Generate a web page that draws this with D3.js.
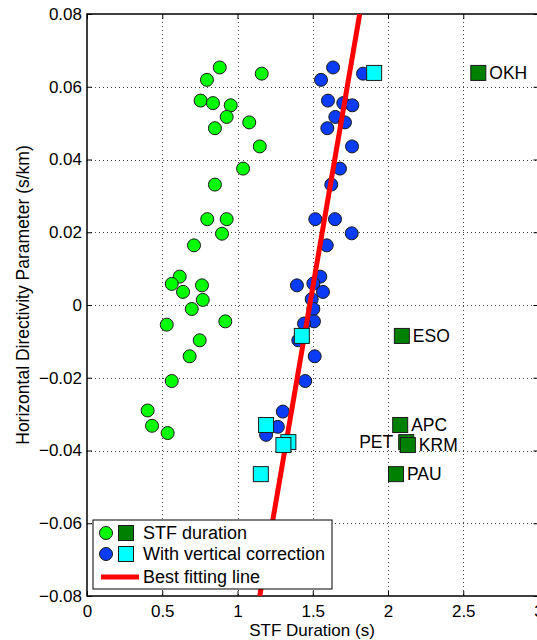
<!DOCTYPE html>
<html>
<head>
<meta charset="utf-8">
<script src="https://cdn.jsdelivr.net/npm/d3@7"></script>
<style>
  body { margin: 0; background: #fff; }
  svg { display: block; font-family: "Liberation Sans", Arial, sans-serif; }
</style>
</head>
<body>
<div id="chart"></div>
<script>
// STF duration (green circles) and the same events after vertical correction (blue circles)
const stfDuration = [0.882, 1.161, 0.797, 0.755, 0.837, 0.955, 0.928, 1.078, 0.850, 1.148,
  1.037, 0.850, 0.799, 0.928, 0.897, 0.711, 0.616, 0.563, 0.764, 0.638,
  0.769, 0.696, 0.530, 0.919, 0.749, 0.682, 0.563, 0.403, 0.432, 0.536];
const stfDirectivity = [0.0653, 0.0636, 0.0619, 0.0562, 0.0555, 0.0549, 0.0517, 0.0502, 0.0486, 0.0436,
  0.0375, 0.0331, 0.0236, 0.0236, 0.0196, 0.0164, 0.0078, 0.0058, 0.0054, 0.0036,
  0.0014, -0.0011, -0.0054, -0.0045, -0.0097, -0.0141, -0.0209, -0.0290, -0.0332, -0.0352];

const corrDuration = [1.635, 1.834, 1.555, 1.601, 1.703, 1.763, 1.650, 1.714, 1.597, 1.761,
  1.681, 1.623, 1.517, 1.648, 1.759, 1.593, 1.550, 1.395, 1.504, 1.568,
  1.493, 1.504, 1.508, 1.442, 1.404, 1.513, 1.450, 1.301, 1.268, 1.190];
const corrDirectivity = [0.0653, 0.0636, 0.0619, 0.0562, 0.0555, 0.0549, 0.0517, 0.0502, 0.0486, 0.0436,
  0.0375, 0.0331, 0.0236, 0.0236, 0.0197, 0.0164, 0.0078, 0.0054, 0.0059, 0.0036,
  0.0016, -0.0011, -0.0045, -0.0051, -0.0097, -0.0141, -0.0209, -0.0293, -0.0335, -0.0357];

// station events (squares)
const stations = ['OKH', 'ESO', 'APC', 'PET', 'KRM', 'PAU'];
const stationDuration = [2.600, 2.092, 2.081, 2.121, 2.132, 2.053];
const stationCorrDuration = [1.908, 1.4275, 1.190, 1.338, 1.305, 1.155];
const stationDirectivity = [0.0638, -0.0085, -0.0330, -0.0377, -0.0385, -0.0465];
const labelLeft = ['PET'];

// best fitting line end points
const fitDuration = [1.148, 1.812];
const fitDirectivity = [-0.08, 0.08];

const xTicks = [0, 0.5, 1, 1.5, 2, 2.5, 3];
const yTicks = [-0.08, -0.06, -0.04, -0.02, 0, 0.02, 0.04, 0.06, 0.08];

const legendItems = ['STF duration', 'With vertical correction', 'Best fitting line'];

const width = 537, height = 640;
const margin = { left: 87, top: 14, right: -1.5, bottom: 44 };

const svg = d3.select('#chart').append('svg')
  .attr('width', width)
  .attr('height', height);

const x = d3.scaleLinear().domain([0, 3]).range([margin.left, width - margin.right]);
const y = d3.scaleLinear().domain([-0.08, 0.08]).range([height - margin.bottom, margin.top]);

const x0 = x.range()[0], x1 = x.range()[1];
const y0 = y.range()[0], y1 = y.range()[1];

// grid
const grid = svg.append('g')
  .attr('stroke', '#444')
  .attr('stroke-width', 1)
  .attr('stroke-dasharray', '1,3');
grid.selectAll('line.gx')
  .data(xTicks.slice(1, -1))
  .join('line')
  .attr('x1', d => Math.round(x(d)) + 0.5).attr('x2', d => Math.round(x(d)) + 0.5)
  .attr('y1', y1).attr('y2', y0);
grid.selectAll('line.gy')
  .data(yTicks.slice(1, -1))
  .join('line')
  .attr('y1', d => Math.round(y(d)) + 0.5).attr('y2', d => Math.round(y(d)) + 0.5)
  .attr('x1', x0).attr('x2', x1);

// axes (inner ticks on all sides)
const tickLen = 5;
const tickFont = g => g.selectAll('text')
  .attr('font-size', 17).attr('fill', '#000')
  .attr('font-family', 'Liberation Sans, Arial, sans-serif');

svg.append('g')
  .attr('transform', `translate(0,${y0})`)
  .call(d3.axisBottom(x).tickValues(xTicks).tickSizeInner(-tickLen).tickSizeOuter(0).tickPadding(9).tickFormat(d3.format('')))
  .call(g => g.select('.domain').remove())
  .call(tickFont);
svg.append('g')
  .attr('transform', `translate(0,${y1})`)
  .call(d3.axisTop(x).tickValues(xTicks).tickSizeInner(-tickLen).tickSizeOuter(0).tickFormat(''))
  .call(g => g.select('.domain').remove());
svg.append('g')
  .attr('transform', `translate(${x0},0)`)
  .call(d3.axisLeft(y).tickValues(yTicks).tickSizeInner(-tickLen).tickSizeOuter(0).tickPadding(5)
    .tickFormat(d => d === 0 ? '0' : d3.format('.2f')(d).replace('-', '\u2212')))
  .call(g => g.select('.domain').remove())
  .call(tickFont);
svg.append('g')
  .attr('transform', `translate(${x1},0)`)
  .call(d3.axisRight(y).tickValues(yTicks).tickSizeInner(-tickLen).tickSizeOuter(0).tickFormat(''))
  .call(g => g.select('.domain').remove());

svg.append('rect')
  .attr('x', x0).attr('y', y1)
  .attr('width', x1 - x0).attr('height', y0 - y1)
  .attr('fill', 'none').attr('stroke', '#000').attr('stroke-width', 1.5);

// axis labels
svg.append('text')
  .attr('x', 312).attr('y', 636)
  .attr('text-anchor', 'middle')
  .attr('font-size', 17)
  .text('STF Duration (s)');
svg.append('text')
  .attr('transform', 'translate(29,295) rotate(-90)')
  .attr('text-anchor', 'middle')
  .attr('font-size', 17.5)
  .text('Horizontal Directivity Parameter (s/km)');

const plot = svg.append('g');
const r = 6.5, sq = 15;

// green circles
plot.selectAll('circle.stf')
  .data(d3.range(stfDuration.length))
  .join('circle')
  .attr('cx', i => x(stfDuration[i]))
  .attr('cy', i => y(stfDirectivity[i]))
  .attr('r', r)
  .attr('fill', '#00ff00')
  .attr('stroke', '#1a1a1a')
  .attr('stroke-width', 1);

// blue circles
plot.selectAll('circle.corr')
  .data(d3.range(corrDuration.length))
  .join('circle')
  .attr('cx', i => x(corrDuration[i]))
  .attr('cy', i => y(corrDirectivity[i]))
  .attr('r', r)
  .attr('fill', '#0a3cf5')
  .attr('stroke', '#1a1a1a')
  .attr('stroke-width', 1);

// best fitting line
svg.append('defs').append('clipPath').attr('id', 'clip')
  .append('rect').attr('x', x0).attr('y', y1).attr('width', x1 - x0).attr('height', y0 - y1);
plot.append('line')
  .attr('clip-path', 'url(#clip)')
  .attr('x1', x(fitDuration[0])).attr('y1', y(fitDirectivity[0]))
  .attr('x2', x(fitDuration[1])).attr('y2', y(fitDirectivity[1]))
  .attr('stroke', '#ff0000')
  .attr('stroke-width', 5);

// station squares
plot.selectAll('rect.stn')
  .data(d3.range(stations.length))
  .join('rect')
  .attr('x', i => x(stationDuration[i]) - sq / 2)
  .attr('y', i => y(stationDirectivity[i]) - sq / 2)
  .attr('width', sq).attr('height', sq)
  .attr('fill', '#008000')
  .attr('stroke', '#1a1a1a')
  .attr('stroke-width', 1);

plot.selectAll('rect.stncorr')
  .data(d3.range(stations.length))
  .join('rect')
  .attr('x', i => x(stationCorrDuration[i]) - sq / 2)
  .attr('y', i => y(stationDirectivity[i]) - sq / 2)
  .attr('width', sq).attr('height', sq)
  .attr('fill', '#00ffff')
  .attr('stroke', '#1a1a1a')
  .attr('stroke-width', 1);

plot.selectAll('text.stn')
  .data(d3.range(stations.length))
  .join('text')
  .attr('x', i => labelLeft.includes(stations[i]) ? x(stationDuration[i]) - 13 : x(stationDuration[i]) + 11)
  .attr('y', i => y(stationDirectivity[i]))
  .attr('dy', '0.36em')
  .attr('text-anchor', i => labelLeft.includes(stations[i]) ? 'end' : 'start')
  .attr('font-size', 17.5)
  .text(i => stations[i]);

// legend
const lg = svg.append('g');
lg.append('rect')
  .attr('x', 93).attr('y', 520)
  .attr('width', 239).attr('height', 69)
  .attr('fill', '#fff').attr('stroke', '#000').attr('stroke-width', 1);

const rowY = [533, 554, 577];
const legendFill = [['#00ff00', '#008000'], ['#0a3cf5', '#00ffff']];
legendFill.forEach((c, i) => {
  lg.append('circle').attr('cx', 106).attr('cy', rowY[i]).attr('r', r)
    .attr('fill', c[0]).attr('stroke', '#1a1a1a');
  lg.append('rect').attr('x', 126 - sq / 2).attr('y', rowY[i] - sq / 2)
    .attr('width', sq).attr('height', sq)
    .attr('fill', c[1]).attr('stroke', '#1a1a1a');
});
lg.append('line')
  .attr('x1', 101).attr('x2', 139)
  .attr('y1', rowY[2]).attr('y2', rowY[2])
  .attr('stroke', '#ff0000').attr('stroke-width', 5);

lg.selectAll('text')
  .data(legendItems)
  .join('text')
  .attr('x', 143)
  .attr('y', (d, i) => rowY[i])
  .attr('dy', '0.36em')
  .attr('font-size', 18)
  .text(d => d);
</script>
</body>
</html>
